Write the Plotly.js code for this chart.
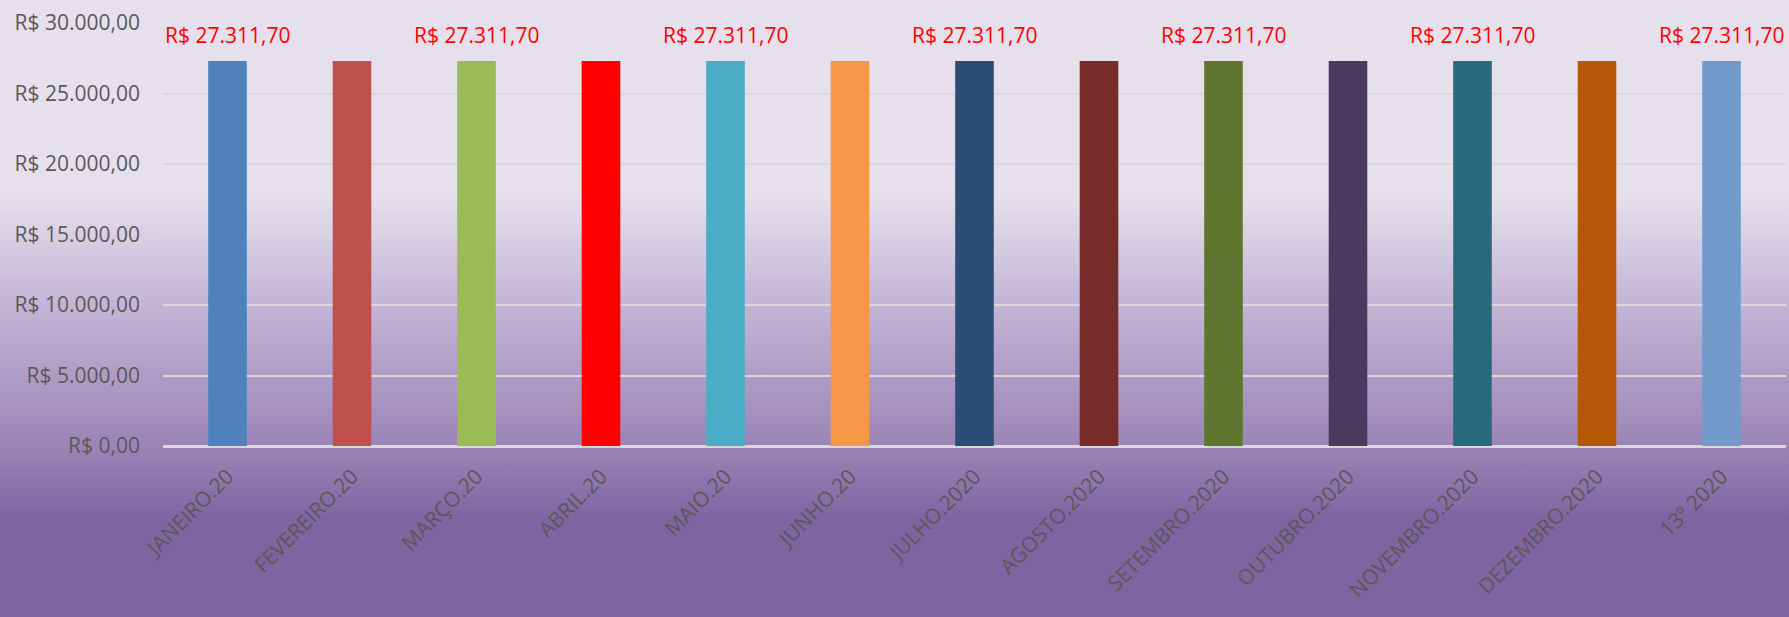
<!DOCTYPE html>
<html>
<head>
<meta charset="utf-8">
<script src="https://cdn.plot.ly/plotly-3.0.1.min.js"></script>
<style>
  html, body { margin: 0; padding: 0; }
  body {
    width: 1789px; height: 617px; overflow: hidden;
    background: linear-gradient(to bottom, #E6E0EC 0px, #E6E0EC 194px, #C9BCDA 285px, #9B84B6 446px, #8064A2 519px, #8064A2 617px);
  }
  #chart { width: 1789px; height: 617px; }
</style>
</head>
<body>
<div id="chart"></div>
<script>
// ---- data ----
const categories = ["JANEIRO.20", "FEVEREIRO.20", "MARÇO.20", "ABRIL.20", "MAIO.20", "JUNHO.20",
  "JULHO.2020", "AGOSTO.2020", "SETEMBRO.2020", "OUTUBRO.2020", "NOVEMBRO.2020", "DEZEMBRO.2020", "13º 2020"];
const values = [27311.70, 27311.70, 27311.70, 27311.70, 27311.70, 27311.70,
  27311.70, 27311.70, 27311.70, 27311.70, 27311.70, 27311.70, 27311.70];
const labelShown = [true, false, true, false, true, false, true, false, true, false, true, false, true];
const barColors = ["#4F81BD", "#C0504D", "#9BBB59", "#FF0000", "#4BACC6", "#F79646",
  "#2C4D75", "#772C2A", "#5F7530", "#4B3A60", "#276A7C", "#B65708", "#729ACA"];
const yTickVals = [0, 5000, 10000, 15000, 20000, 25000, 30000];

function brl(v) {
  const parts = v.toFixed(2).split(".");
  const intPart = parts[0].replace(/\B(?=(\d{3})+(?!\d))/g, ".");
  return "R$ " + intPart + "," + parts[1];
}

const trace = {
  type: "bar",
  x: categories,
  y: values,
  marker: { color: barColors, line: { width: 0 } },
  hoverinfo: "skip"
};

const annotations = categories.map((c, i) => labelShown[i] ? {
  x: c, y: values[i], xref: "x", yref: "y",
  text: brl(values[i]), showarrow: false, yshift: 26,
  font: { family: "Open Sans, sans-serif", size: 21, color: "#FF0000" }
} : null).filter(a => a);

const layout = {
  width: 1789, height: 617,
  paper_bgcolor: "rgba(0,0,0,0)",
  plot_bgcolor: "rgba(0,0,0,0)",
  margin: { l: 163, r: 3, t: 23, b: 171, pad: 0 },
  separators: ",.",
  showlegend: false,
  bargap: 0.69,
  xaxis: {
    type: "category",
    tickangle: -45,
    tickfont: { family: "Open Sans, sans-serif", size: 21, color: "#595959" },
    showgrid: false,
    showline: false,
    zeroline: false,
    ticks: "",
    ticklabelstandoff: 13,
    fixedrange: true
  },
  yaxis: {
    range: [0, 30000],
    tickmode: "array",
    tickvals: yTickVals,
    ticktext: yTickVals.map(brl),
    tickfont: { family: "Open Sans, sans-serif", size: 21, color: "#595959" },
    showgrid: true,
    gridcolor: "#D9D9D9",
    gridwidth: 2,
    zeroline: true,
    zerolinecolor: "#D9D9D9",
    zerolinewidth: 3,
    showline: false,
    ticks: "",
    ticklabelstandoff: 22,
    fixedrange: true
  },
  annotations: annotations
};

Plotly.newPlot("chart", [trace], layout, { displayModeBar: false, staticPlot: true });
</script>
</body>
</html>
